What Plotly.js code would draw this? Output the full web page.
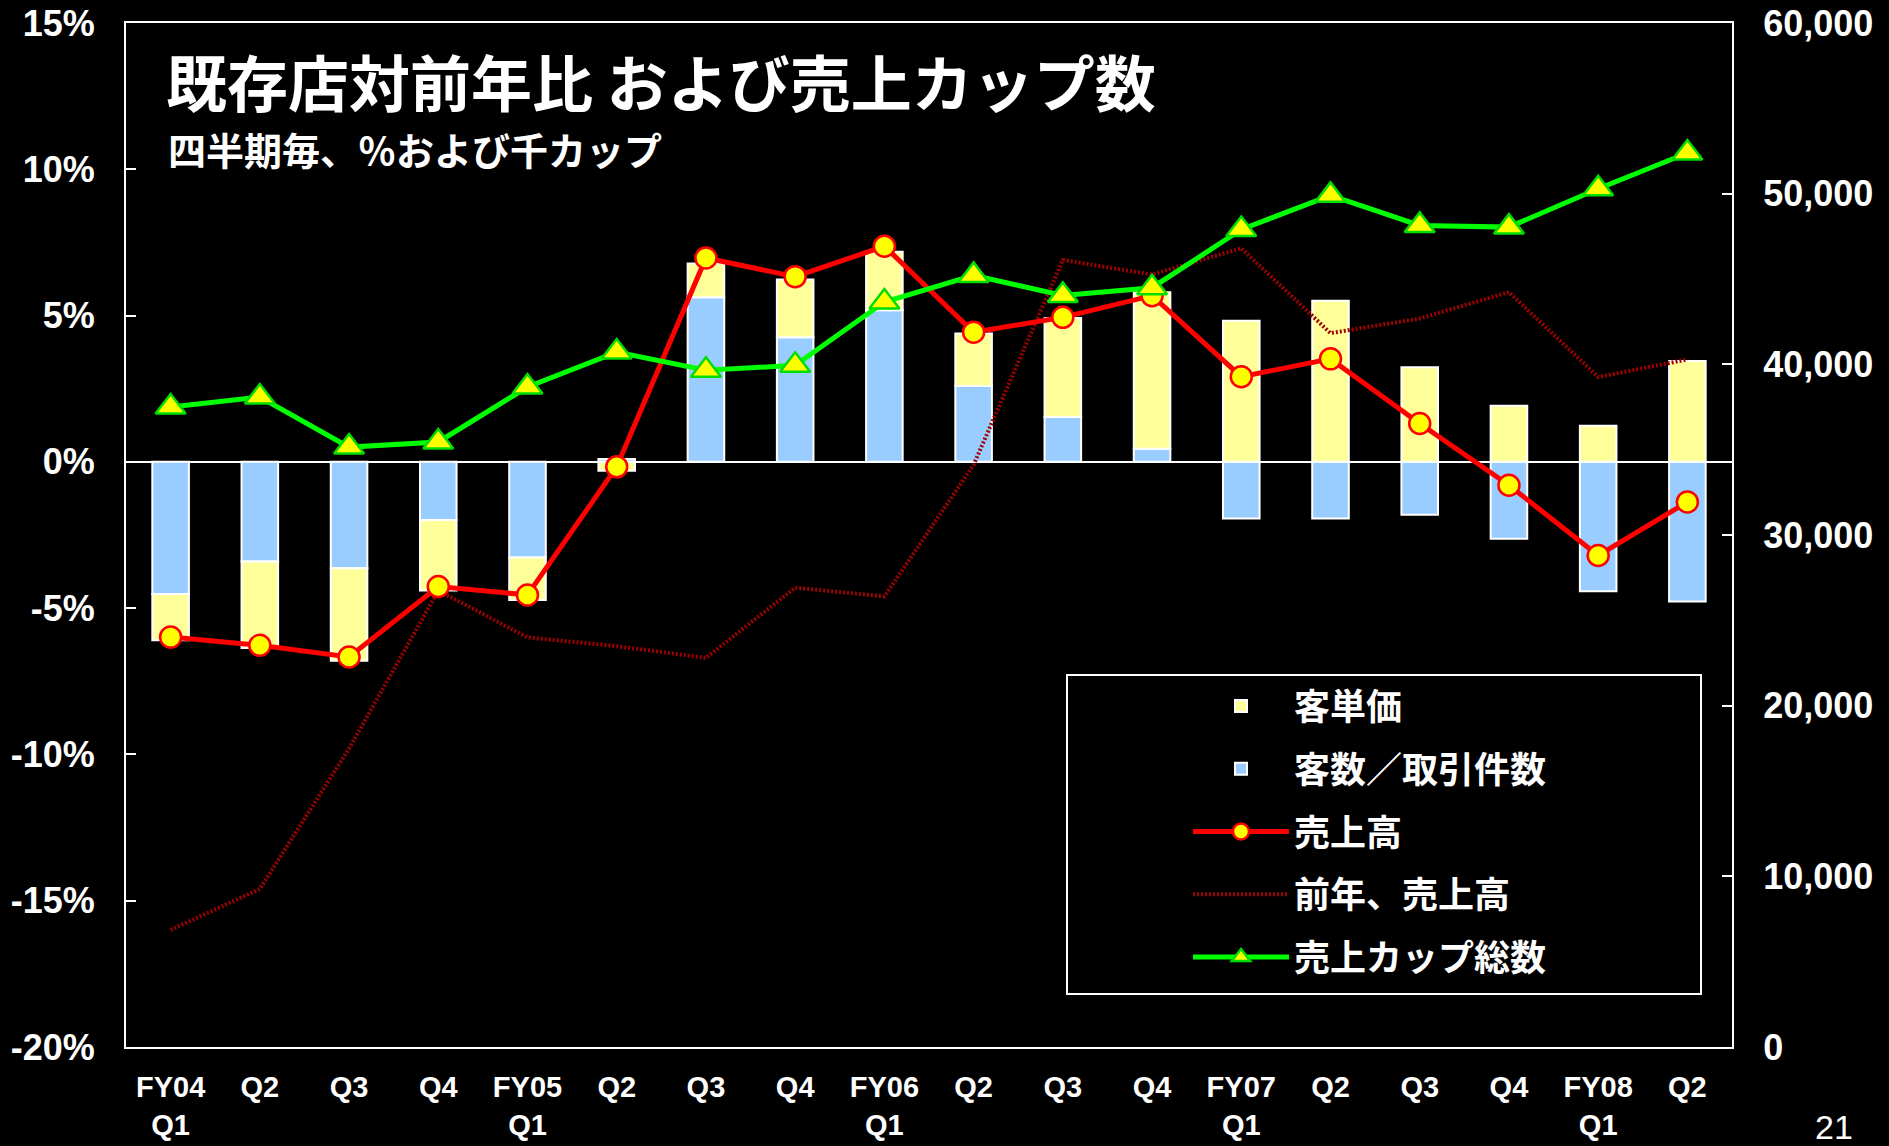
<!DOCTYPE html>
<html>
<head>
<meta charset="utf-8">
<script src="https://cdn.plot.ly/plotly-3.0.1.min.js"></script>
<style>
  html, body { margin: 0; padding: 0; background: #000; }
  #chart { width: 1889px; height: 1146px; }
</style>
</head>
<body>
<div id="chart"></div>
<script>
// ---- Data ----
const periods = ['FY04Q1','FY04Q2','FY04Q3','FY04Q4','FY05Q1','FY05Q2','FY05Q3','FY05Q4',
                 'FY06Q1','FY06Q2','FY06Q3','FY06Q4','FY07Q1','FY07Q2','FY07Q3','FY07Q4',
                 'FY08Q1','FY08Q2'];
const periodLabels = ['FY04<br>Q1','Q2','Q3','Q4','FY05<br>Q1','Q2','Q3','Q4',
                      'FY06<br>Q1','Q2','Q3','Q4','FY07<br>Q1','Q2','Q3','Q4',
                      'FY08<br>Q1','Q2'];

// 客単価 (average ticket), % change
const ticketPct = [-1.58, -2.95, -3.16, -2.41, -1.45, -0.30, 1.15, 1.97,
                   2.00, 1.80, 3.39, 5.35, 4.82, 5.51, 3.23, 1.92, 1.23, 3.45];
// 客数／取引件数 (transactions), % change
const transPct = [-4.52, -3.41, -3.64, -1.99, -3.27, 0.10, 5.63, 4.26,
                  5.18, 2.59, 1.53, 0.45, -1.94, -1.94, -1.81, -2.63, -4.42, -4.77];
// 売上高 (comp sales), % change
const salesPct = [-5.99, -6.27, -6.67, -4.26, -4.55, -0.17, 6.97, 6.33,
                  7.37, 4.43, 4.94, 5.68, 2.91, 3.52, 1.31, -0.80, -3.20, -1.37];
// 前年、売上高 (prior-year comp sales), % change
const priorSalesPct = [-16.0, -14.6, -9.8, -4.4, -6.0, -6.3, -6.7, -4.3,
                       -4.6, -0.1, 6.9, 6.4, 7.3, 4.4, 4.9, 5.8, 2.9, 3.5];
// 売上カップ総数 (total cups sold, thousands)
const cupsK = [37500, 38080, 35150, 35450, 38670, 40720, 39650, 39940,
               43650, 45210, 44040, 44490, 47900, 49900, 48140, 48040, 50290, 52380];

// Axis ticks
const leftTickVals = [-20, -15, -10, -5, 0, 5, 10, 15];
const leftTickText = ['-20%', '-15%', '-10%', '-5%', '0%', '5%', '10%', '15%'];
const rightTickVals = [0, 10000, 20000, 30000, 40000, 50000, 60000];

// Series names
const seriesNames = ['客単価', '客数／取引件数', '売上高', '前年、売上高', '売上カップ総数'];

// ---- Styling ----
const W = 1889, H = 1146;
const M = { l: 126, r: 157, t: 23, b: 99 };
const plotW = W - M.l - M.r, plotH = H - M.t - M.b;
const px2x = px => (px - M.l) / plotW;
const px2y = py => (H - M.b - py) / plotH;

const latin = 'Liberation Sans, Arial, sans-serif';
const cjk = 'Noto Sans CJK JP, sans-serif';

const traces = [
  {
    type: 'bar', name: seriesNames[1], x: periods, y: transPct,
    marker: { color: '#99CCFF', line: { color: '#FFFFFF', width: 2 } },
    width: 0.41, legendrank: 2, legendgroup: 'g2', hoverinfo: 'skip'
  },
  {
    type: 'bar', name: seriesNames[0], x: periods, y: ticketPct,
    marker: { color: '#FFFF99', line: { color: '#FFFFFF', width: 2 } },
    width: 0.41, legendrank: 1, legendgroup: 'g1', hoverinfo: 'skip'
  },
  {
    type: 'scatter', mode: 'lines', name: seriesNames[3], x: periods, y: priorSalesPct,
    line: { color: '#A00000', width: 4, dash: '2px,2px' },
    legendrank: 4, legendgroup: 'g4', hoverinfo: 'skip'
  },
  {
    type: 'scatter', mode: 'lines+markers', name: seriesNames[4], x: periods, y: cupsK,
    yaxis: 'y2',
    line: { color: '#00FF00', width: 5 },
    marker: { symbol: 'triangle-up', size: 26, color: '#FFFF00', line: { color: '#00DD00', width: 2.5 } },
    legendrank: 5, legendgroup: 'g5', hoverinfo: 'skip'
  },
  {
    type: 'scatter', mode: 'lines+markers', name: seriesNames[2], x: periods, y: salesPct,
    line: { color: '#FF0000', width: 5 },
    marker: { symbol: 'circle', size: 21, color: '#FFFF00', line: { color: '#FF0000', width: 2.5 } },
    legendrank: 3, legendgroup: 'g3', hoverinfo: 'skip'
  }
];

const layout = {
  width: W, height: H,
  margin: M,
  paper_bgcolor: '#000000',
  plot_bgcolor: '#000000',
  barmode: 'relative',
  bargap: 0.59,
  showlegend: true,
  title: {
    text: '既存店対前年比 および売上カップ数',
    xref: 'container', yref: 'container',
    x: 166 / W, xanchor: 'left',
    y: 1 - 86 / H, yanchor: 'middle',
    font: { family: cjk, size: 61, color: '#FFFFFF', weight: 700 }
  },
  xaxis: {
    type: 'category',
    range: [-0.5, periods.length - 0.5],
    tickmode: 'array', tickvals: periods, ticktext: periodLabels,
    showline: true, linecolor: '#FFFFFF', linewidth: 2, mirror: true,
    showgrid: false, zeroline: false, ticks: '',
    ticklabelstandoff: 13,
    tickfont: { family: latin, size: 29, color: '#FFFFFF', weight: 700 },
    fixedrange: true
  },
  yaxis: {
    range: [-20, 15],
    tickmode: 'array', tickvals: leftTickVals, ticktext: leftTickText,
    showline: true, linecolor: '#FFFFFF', linewidth: 2,
    ticks: 'inside', ticklen: 10, tickwidth: 2, tickcolor: '#FFFFFF',
    showgrid: false,
    zeroline: true, zerolinecolor: '#FFFFFF', zerolinewidth: 2,
    ticklabelstandoff: 22,
    tickfont: { family: latin, size: 36, color: '#FFFFFF', weight: 700 },
    fixedrange: true
  },
  yaxis2: {
    range: [0, 60000], overlaying: 'y', side: 'right',
    tickmode: 'array', tickvals: rightTickVals, tickformat: ',d',
    showline: true, linecolor: '#FFFFFF', linewidth: 2,
    ticks: 'inside', ticklen: 10, tickwidth: 2, tickcolor: '#FFFFFF',
    showgrid: false, zeroline: false,
    ticklabelstandoff: 22,
    tickfont: { family: latin, size: 36, color: '#FFFFFF', weight: 700 },
    fixedrange: true
  },
  legend: {
    x: px2x(1188), xanchor: 'left',
    y: px2y(676), yanchor: 'top',
    bgcolor: 'rgba(0,0,0,0)', borderwidth: 0,
    traceorder: 'grouped', tracegroupgap: 13,
    itemwidth: 96,
    font: { family: cjk, size: 36, color: '#FFFFFF', weight: 700 }
  },
  shapes: [
    {
      type: 'rect', xref: 'paper', yref: 'paper', layer: 'below',
      x0: px2x(1067), x1: px2x(1701), y0: px2y(675), y1: px2y(994),
      line: { color: '#FFFFFF', width: 2 }, fillcolor: 'rgba(0,0,0,0)'
    }
  ],
  annotations: [
    {
      text: '四半期毎、％および千カップ', showarrow: false,
      xref: 'paper', yref: 'paper', x: px2x(166), y: px2y(148),
      xanchor: 'left', yanchor: 'middle',
      font: { family: cjk, size: 38, color: '#FFFFFF', weight: 700 }
    },
    {
      text: '21', showarrow: false,
      xref: 'paper', yref: 'paper', x: px2x(1834), y: px2y(1127),
      xanchor: 'center', yanchor: 'middle',
      font: { family: latin, size: 34, color: '#FFFFFF' }
    }
  ]
};

Plotly.newPlot('chart', traces, layout, { displayModeBar: false, staticPlot: true });
</script>
</body>
</html>
